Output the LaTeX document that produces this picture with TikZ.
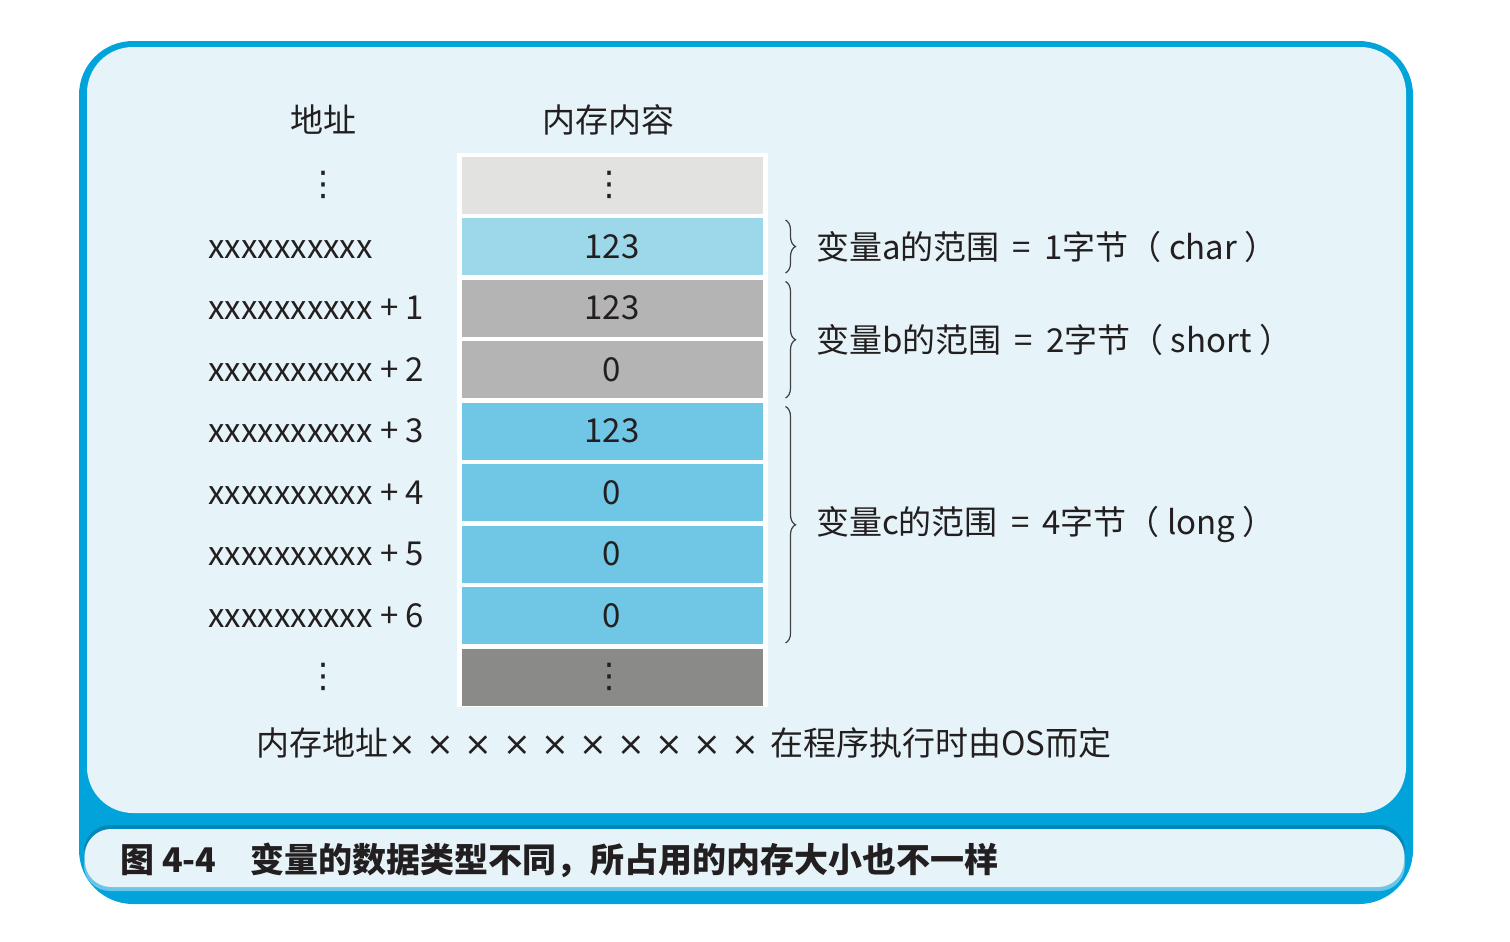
\documentclass[tikz,border=0pt]{standalone}
\usepackage{fontspec}
\setmainfont{Noto Sans CJK SC}
\newfontfamily\symfont{DejaVu Sans}
\usetikzlibrary{positioning,calc,decorations.pathreplacing}

\definecolor{frameblue}{HTML}{00A4DB}
\definecolor{framedark}{HTML}{0086B8}
\definecolor{framelight}{HTML}{6CC5E6}
\definecolor{panelbg}{HTML}{E6F4F9}
\definecolor{cellgray}{HTML}{E2E2E1}
\definecolor{cellblueA}{HTML}{9DD7EA}
\definecolor{cellgrayB}{HTML}{B4B4B4}
\definecolor{cellblueC}{HTML}{70C6E5}
\definecolor{celldark}{HTML}{8A8A89}
\definecolor{inkcol}{HTML}{231F20}

\newcommand\vdotsym{{\symfont\fontsize{17}{20}\selectfont ⋮}}

\begin{document}
\begin{tikzpicture}[
    x=0.5pt, y=-0.5pt,
    font=\fontsize{16.5}{20}\selectfont,
    cell/.style  ={rectangle, minimum width=150.5pt, minimum height=28.5pt,
                   inner sep=0pt, outer sep=0pt, text=inkcol,
                   text height=11.5pt, text depth=0pt},
    addr/.style  ={anchor=west, inner sep=0pt, text=inkcol,
                   text height=11.5pt, text depth=0pt},
    hdr/.style   ={inner sep=0pt, text=inkcol},
    brc/.style   ={decorate, decoration={brace, amplitude=5pt},
                   draw=black!75, line width=0.6pt},
    rng/.style   ={anchor=west, inner sep=0pt, xshift=15pt, text=inkcol},
]
\useasboundingbox (0,0) rectangle (1510,942);

% ----------------------------------------------------------------------
%  frame: outer blue border, main panel and caption bar
% ----------------------------------------------------------------------
\fill[frameblue, rounded corners=27pt] (79,41) rectangle (1413,904);
\fill[panelbg, rounded corners=23pt] (87,47) rectangle (1406,813);
\fill[framedark, rounded corners=13pt] (84,825) rectangle (1405,885);
\fill[framelight, rounded corners=13pt] (84,831) rectangle (1405,891);
\fill[panelbg, rounded corners=13pt] (85,829) rectangle (1404,887);

% ----------------------------------------------------------------------
%  memory column
% ----------------------------------------------------------------------
\node[hdr] (haddr) at (323,120) {地址};
\node[hdr] (hmem)  at (608,120) {内存内容};

\fill[white] (457,153) rectangle (768,707);

\node[cell, fill=cellgray]                    (m0) at (612,185) {};
\node[cell, fill=cellblueA, below=2.25pt of m0] (m1) {123};
\node[cell, fill=cellgrayB, below=2.25pt of m1] (m2) {123};
\node[cell, fill=cellgrayB, below=2.25pt of m2] (m3) {0};
\node[cell, fill=cellblueC, below=2.25pt of m3] (m4) {123};
\node[cell, fill=cellblueC, below=2.25pt of m4] (m5) {0};
\node[cell, fill=cellblueC, below=2.25pt of m5] (m6) {0};
\node[cell, fill=cellblueC, below=2.25pt of m6] (m7) {0};
\node[cell, fill=celldark,  below=2.25pt of m7] (m8) {};
\node[hdr] (d0) at (609,185 |- m0) {\vdotsym};
\node[hdr] (d8) at (609,185 |- m8) {\vdotsym};

% --- addresses ---
\coordinate (addrx) at (208,0);
\node[hdr] (a0) at (323,185) {\vdotsym};
\node[addr] (a1) at (addrx |- m1) {xxxxxxxxxx};
\node[addr] (a2) at (addrx |- m2) {xxxxxxxxxx + 1};
\node[addr] (a3) at (addrx |- m3) {xxxxxxxxxx + 2};
\node[addr] (a4) at (addrx |- m4) {xxxxxxxxxx + 3};
\node[addr] (a5) at (addrx |- m5) {xxxxxxxxxx + 4};
\node[addr] (a6) at (addrx |- m6) {xxxxxxxxxx + 5};
\node[addr] (a7) at (addrx |- m7) {xxxxxxxxxx + 6};
\node[hdr] (a8) at (323,677 |- m8) {\vdotsym};

% --- variable ranges ---
\draw[brc] ($(m1.north east)+(23,2)$) -- ($(m1.south east)+(23,-2)$)
      node[midway, rng] (la) {变量a的范围\hspace{0.4em}=\hspace{0.4em}1字节（ char ）};
\draw[brc] ($(m2.north east)+(23,2)$) -- ($(m3.south east)+(23,0)$)
      node[midway, rng] (lb) {变量b的范围\hspace{0.4em}=\hspace{0.4em}2字节（ short ）};
\draw[brc] ($(m4.north east)+(23,4)$) -- ($(m7.south east)+(23,-1)$)
      node[midway, rng] (lc) {变量c的范围\hspace{0.4em}=\hspace{0.4em}4字节（ long ）};

% --- note and caption ---
\node[hdr] (note) at (684,743)
      {内存地址{\symfont × × × × × × × × × × }在程序执行时由OS而定};
\node[hdr, anchor=west, font=\fontsize{17}{20}\selectfont\bfseries]
      (cap) at (120,860) {图 4-4\quad 变量的数据类型不同，所占用的内存大小也不一样};

\end{tikzpicture}
\end{document}
